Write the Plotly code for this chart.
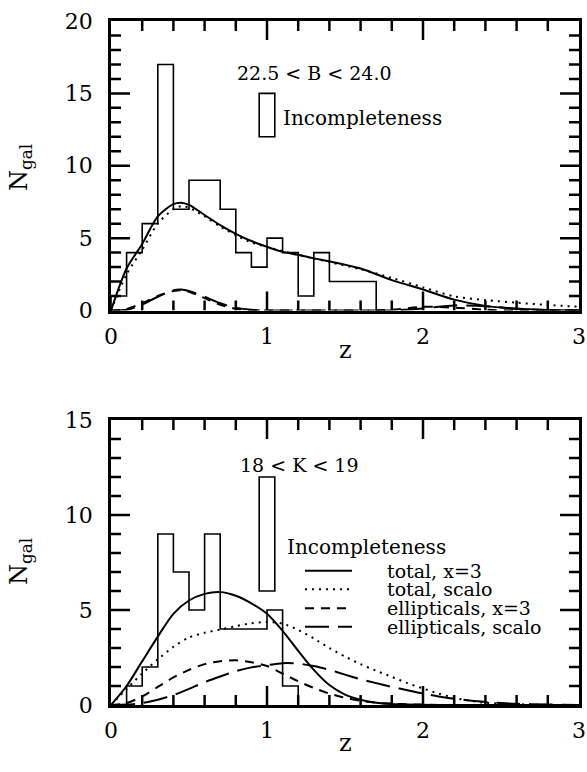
import plotly.graph_objects as go

W, H = 587, 772
FONT = "DejaVu Serif"

# ---------------- data: top panel (22.5 < B < 24.0) ----------------
top_edges = [0.0, 0.1, 0.2, 0.3, 0.4, 0.5, 0.7, 0.8, 0.9, 1.0, 1.1, 1.2, 1.3, 1.4, 1.7]
top_counts = [1, 4, 6, 17, 7, 9, 7, 4, 3, 5, 4, 1, 4, 2]
top_incompl_z = [0.95, 1.05]
top_incompl_n = [12, 15]

top_z = [0.0, 0.1, 0.2, 0.3, 0.4, 0.45, 0.5, 0.6, 0.7, 0.8, 0.9, 1.0, 1.1, 1.2, 1.3, 1.4,
         1.6, 1.8, 2.0, 2.2, 2.4, 2.6, 2.8, 3.0]
top_total_x3 = [0.0, 2.9, 4.6, 6.5, 7.35, 7.45, 7.3, 6.6, 5.9, 5.3, 4.8, 4.4, 4.05, 3.85, 3.6, 3.4,
                2.9, 2.1, 1.45, 0.75, 0.32, 0.12, 0.04, 0.01]
top_total_scalo = [0.0, 2.5, 4.2, 6.0, 7.0, 7.2, 7.1, 6.5, 5.8, 5.2, 4.7, 4.4, 4.1, 3.85, 3.6, 3.35,
                   2.85, 2.25, 1.6, 0.98, 0.72, 0.54, 0.38, 0.26]
top_ell_x3 = [0.0, 0.1, 0.5, 1.0, 1.35, 1.4, 1.3, 0.85, 0.4, 0.12, 0.03, 0.0, 0.0, 0.0, 0.0, 0.0,
              0.0, 0.05, 0.25, 0.2, 0.05, 0.0, 0.0, 0.0]
top_ell_scalo = [0.0, 0.05, 0.4, 0.95, 1.4, 1.45, 1.35, 0.95, 0.5, 0.2, 0.05, 0.0, 0.0, 0.0, 0.0, 0.0,
                 0.0, 0.0, 0.15, 0.35, 0.3, 0.12, 0.03, 0.0]

# ---------------- data: bottom panel (18 < K < 19) ----------------
bot_edges = [0.0, 0.1, 0.2, 0.3, 0.4, 0.5, 0.6, 0.7, 1.0, 1.1, 1.2]
bot_counts = [0, 1, 2, 9, 7, 5, 9, 4, 5, 1]
bot_incompl_z = [0.95, 1.05]
bot_incompl_n = [6, 12]

bot_z = [0.0, 0.1, 0.2, 0.3, 0.4, 0.5, 0.6, 0.7, 0.8, 0.9, 1.0, 1.1, 1.2, 1.3, 1.4, 1.5, 1.6,
         1.7, 1.8, 1.9, 2.0, 2.1, 2.2, 2.3, 2.4, 2.5, 2.6, 2.8, 3.0]
bot_total_x3 = [0.0, 1.0, 2.3, 3.6, 4.8, 5.5, 5.85, 5.95, 5.75, 5.35, 4.8, 3.9, 2.85, 1.85, 1.05, 0.55,
                0.28, 0.12, 0.05, 0.02, 0.01, 0.0, 0.0, 0.0, 0.0, 0.0, 0.0, 0.0, 0.0]
bot_total_scalo = [0.0, 0.85, 1.66, 2.4, 3.06, 3.55, 3.8, 3.97, 4.15, 4.3, 4.37, 4.28, 3.95, 3.5, 3.0, 2.55,
                   2.15, 1.8, 1.48, 1.15, 0.87, 0.6, 0.38, 0.22, 0.12, 0.07, 0.04, 0.01, 0.0]
bot_ell_x3 = [0.0, 0.1, 0.45, 0.95, 1.45, 1.85, 2.15, 2.3, 2.35, 2.25, 2.05, 1.65, 1.25, 0.9, 0.6, 0.38,
              0.22, 0.12, 0.07, 0.04, 0.02, 0.0, 0.0, 0.0, 0.0, 0.0, 0.0, 0.0, 0.0]
bot_ell_scalo = [0.0, 0.02, 0.1, 0.28, 0.52, 0.85, 1.2, 1.5, 1.78, 1.98, 2.1, 2.2, 2.18, 2.05, 1.85, 1.6,
                 1.35, 1.15, 0.95, 0.78, 0.6, 0.45, 0.33, 0.24, 0.17, 0.1, 0.06, 0.02, 0.0]

legend_labels = ["total, x=3", "total, scalo", "ellipticals, x=3", "ellipticals, scalo"]

# axis ranges / tick steps
z_range = [0, 3]
top_n_range = [0, 20]
bot_n_range = [0, 15]
z_major, z_minor = 1.0, 0.2
n_major, n_minor = 5, 1

# ---------------- layout geometry / styles ----------------
DASHES = ["solid", "2px,5px", "9px,7px", "24px,9px"]
LW = 2.0
PX_L, PX_R = 111, 579
TOP_PX = (21, 310.5)
BOT_PX = (420, 705)
X0, X1 = PX_L / W, PX_R / W
TOP_DOM = [1 - TOP_PX[1] / H, 1 - TOP_PX[0] / H]
BOT_DOM = [1 - BOT_PX[1] / H, 1 - BOT_PX[0] / H]
MAJ_LEN, MIN_LEN, TICK_W = 19, 10, 2.5


def step_xy(edges, counts):
    xs, ys = [edges[0]], [0]
    for i, c in enumerate(counts):
        xs += [edges[i], edges[i + 1]]
        ys += [c, c]
    xs.append(edges[-1])
    ys.append(0)
    return xs, ys


def tick_values(rng, step):
    n = int(round((rng[1] - rng[0]) / step))
    return [round(rng[0] + i * step, 6) for i in range(1, n)]


fig = go.Figure()

panels = [
    ("x", "y", top_edges, top_counts, top_z,
     [top_total_x3, top_total_scalo, top_ell_x3, top_ell_scalo], top_n_range),
    ("x2", "y2", bot_edges, bot_counts, bot_z,
     [bot_total_x3, bot_total_scalo, bot_ell_x3, bot_ell_scalo], bot_n_range),
]

for xa, ya, edges, counts, zz, curves, nrange in panels:
    hx, hy = step_xy(edges, counts)
    fig.add_trace(go.Scatter(x=hx, y=hy, mode="lines", xaxis=xa, yaxis=ya,
                             line=dict(color="black", width=1.6), showlegend=False))
    for vals, dash in zip(curves, DASHES):
        fig.add_trace(go.Scatter(x=zz, y=vals, mode="lines", xaxis=xa, yaxis=ya,
                                 line=dict(color="black", width=LW, dash=dash, shape="spline",
                                           smoothing=0.8),
                                 showlegend=False))

    # inward tick marks on all four sides (shapes placed on the axis scales, pixel lengths)
    tick_line = dict(color="black", width=TICK_W)
    for v in tick_values(z_range, z_minor):
        ln = MAJ_LEN if abs(v / z_major - round(v / z_major)) < 1e-6 else MIN_LEN
        for anchor, sgn in [(nrange[0], 1), (nrange[1], -1)]:
            fig.add_shape(type="line", xref=xa, yref=ya, x0=v, x1=v,
                          ysizemode="pixel", yanchor=anchor, y0=0, y1=sgn * ln,
                          line=tick_line, layer="above")
    for v in tick_values(nrange, n_minor):
        ln = MAJ_LEN if v % n_major == 0 else MIN_LEN
        for anchor, sgn in [(z_range[0], 1), (z_range[1], -1)]:
            fig.add_shape(type="line", xref=xa, yref=ya, y0=v, y1=v,
                          xsizemode="pixel", xanchor=anchor, x0=0, x1=sgn * ln,
                          line=tick_line, layer="above")

# incompleteness boxes
for xa, ya, zr, nr in [("x", "y", top_incompl_z, top_incompl_n),
                       ("x2", "y2", bot_incompl_z, bot_incompl_n)]:
    fig.add_shape(type="rect", xref=xa, yref=ya, x0=zr[0], x1=zr[1], y0=nr[0], y1=nr[1],
                  line=dict(color="black", width=1.6), fillcolor="rgba(0,0,0,0)")

# legend samples in the bottom panel (paper coords)
leg_y = [570.7, 589.3, 608.3, 626.7]
for yy, dash, lab in zip(leg_y, DASHES, legend_labels):
    fig.add_shape(type="line", xref="paper", yref="paper",
                  x0=305 / W, x1=352 / W, y0=1 - yy / H, y1=1 - yy / H,
                  line=dict(color="black", width=LW, dash=dash))
    fig.add_annotation(xref="paper", yref="paper", x=385 / W, y=1 - yy / H,
                       text=lab, showarrow=False, xanchor="left", yanchor="middle",
                       font=dict(family=FONT, size=19, color="black"))

txt = [
    ("22.5 &lt; B &lt; 24.0", 235, 73, "left", 19),
    ("Incompleteness", 281, 118, "left", 20),
    ("18 &lt; K &lt; 19", 238, 465, "left", 19),
    ("Incompleteness", 285, 547, "left", 20),
    ("z", 345, 350, "center", 24),
    ("z", 345, 743, "center", 24),
]
for t, px, py, anc, sz in txt:
    fig.add_annotation(xref="paper", yref="paper", x=px / W, y=1 - py / H, text=t,
                       showarrow=False, xanchor=anc, yanchor="middle",
                       font=dict(family=FONT, size=sz, color="black"))

for py in [168, 562]:
    fig.add_annotation(xref="paper", yref="paper", x=20 / W, y=1 - py / H,
                       text="N<sub>gal</sub>", showarrow=False, textangle=-90,
                       xanchor="center", yanchor="middle",
                       font=dict(family=FONT, size=24, color="black"))


def axis(rng, dom, anchor, dtick, pad):
    return dict(range=rng, domain=dom, anchor=anchor,
                showline=True, linecolor="black", linewidth=2.5, mirror=True,
                ticks="outside", ticklen=pad, tickcolor="rgba(0,0,0,0)",
                tickmode="linear", tick0=0, dtick=dtick, showgrid=False, zeroline=False,
                tickfont=dict(family=FONT, size=22, color="black"))


fig.update_layout(
    template="none",
    width=W, height=H, margin=dict(l=0, r=0, t=0, b=0),
    paper_bgcolor="white", plot_bgcolor="white", showlegend=False,
    xaxis=axis(z_range, [X0, X1], "y", z_major, 4),
    yaxis=axis(top_n_range, TOP_DOM, "x", n_major, 11),
    xaxis2=axis(z_range, [X0, X1], "y2", z_major, 4),
    yaxis2=axis(bot_n_range, BOT_DOM, "x2", n_major, 11),
)

fig.write_html("out.html")
